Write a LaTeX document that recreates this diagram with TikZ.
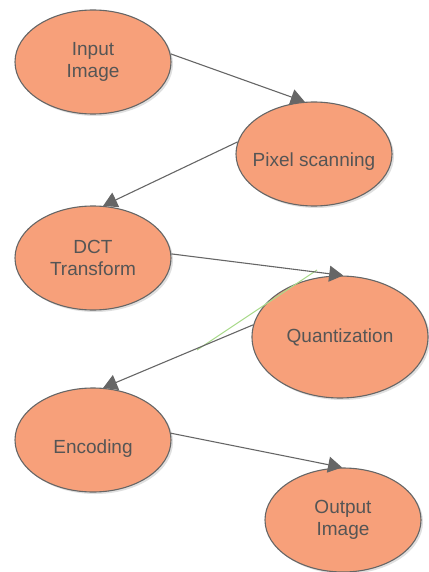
\documentclass[tikz,border=0pt]{standalone}
\usepackage{fontspec}
\setmainfont{Liberation Sans}
\usetikzlibrary{shapes.geometric,arrows.meta,shadows}
\definecolor{nodefill}{RGB}{247,160,122}
\definecolor{edgegray}{RGB}{102,102,102}
\definecolor{textgray}{RGB}{85,85,85}
\definecolor{strayline}{RGB}{170,218,140}
\tikzset{
  stage/.style={ellipse, draw=edgegray, line width=1.1pt, fill=nodefill,
    minimum width=156pt, minimum height=104pt, inner sep=0pt,
    align=center, text=textgray, font=\fontsize{19}{22}\selectfont,
    drop shadow={shadow xshift=2pt, shadow yshift=-2pt, fill=gray!50, opacity=0.5}},
  bigstage/.style={stage, minimum width=176pt, minimum height=122pt},
  lbl/.style={text=textgray, font=\fontsize{19}{22}\selectfont, align=center},
  flow/.style={draw=edgegray, line width=1.1pt, -{Triangle[length=14pt,width=16pt]}}
}
\begin{document}
\begin{tikzpicture}[x=1pt,y=-1pt]
\useasboundingbox (0,0) rectangle (428,572);
\node[stage] (input) at (93,62) {Input\\Image};
\node[stage, label={[lbl,yshift=-8pt]center:Pixel scanning}] (pixel) at (314,154) {};
\node[stage] (dct) at (93,258) {DCT\\Transform};
\node[bigstage] (quant) at (340,337) {Quantization};
\node[stage, label={[lbl,yshift=-9pt]center:Encoding}] (enc) at (93,440) {};
\node[stage] (out) at (343,520) {Output\\Image};
\coordinate (g1) at (197,350);
\coordinate (g2) at (317,270);
\draw[strayline, line width=1pt] (g1) -- (g2);
\draw[flow] (input.6) -- (pixel.100);
\draw[flow] (pixel.171) -- (dct.79);
\draw[flow] (dct.3) -- (quant.87);
\draw[flow] (quant.172) -- (enc.79);
\draw[flow] (enc.5) -- (out.91);
\end{tikzpicture}
\end{document}
